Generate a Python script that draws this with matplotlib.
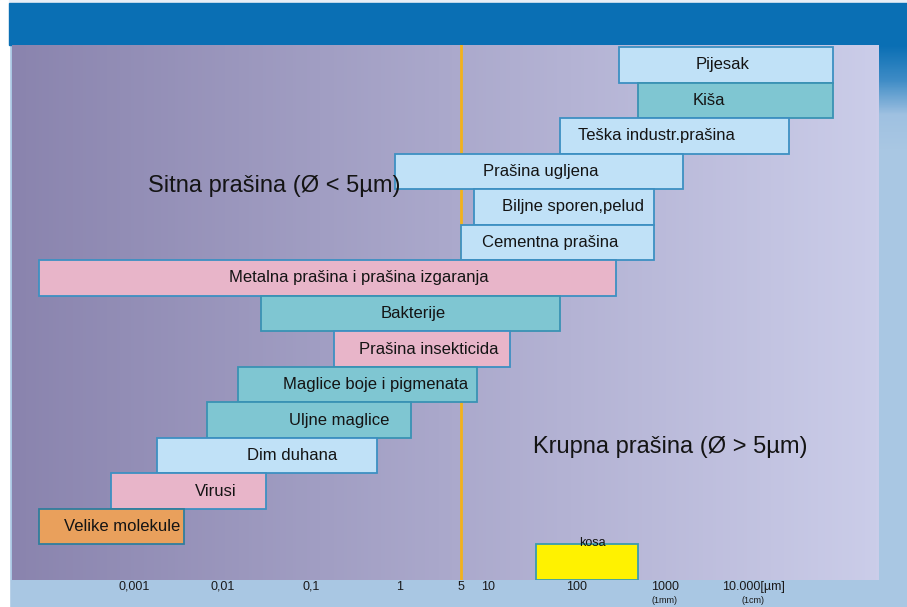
import numpy as np
import matplotlib
matplotlib.use("Agg")
import matplotlib.pyplot as plt
from matplotlib.colors import LinearSegmentedColormap
from matplotlib.patches import Rectangle

plt.rcParams['font.family'] = ['Liberation Sans', 'DejaVu Sans']

# ---- data (particle size ranges in µm) ----
names = ["Pijesak", "Kiša", "Teška industr.prašina", "Prašina ugljena",
         "Biljne sporen,pelud", "Cementna prašina",
         "Metalna prašina i prašina izgaranja", "Bakterije",
         "Prašina insekticida", "Maglice boje i pigmenata", "Uljne maglice",
         "Dim duhana", "Virusi", "Velike molekule", "kosa"]
size_min = [300, 500, 65, 0.9, 7, 5, 8.5e-5, 0.027, 0.18, 0.015, 0.0067,
            0.0018, 0.00055, 8.5e-5, 35]
size_max = [80000, 80000, 25000, 1600, 750, 750, 280, 65, 17.5, 7.5, 1.35,
            0.55, 0.031, 0.0037, 500]
kinds = ["light", "teal", "light", "light", "light", "light", "pink", "teal",
         "pink", "teal", "teal", "light", "pink", "orange", "yellow"]
tick_values = [0.001, 0.01, 0.1, 1, 5, 10, 100, 1000, 10000]
tick_labels = ["0,001", "0,01", "0,1", "1", "5", "10", "100", "1000", "10.000[µm]"]
sub_labels = {1000: "(1mm)", 10000: "(1cm)"}
threshold = 5
fine_text = "Sitna prašina (Ø < 5µm)"
coarse_text = "Krupna prašina (Ø > 5µm)"

# ---- style ----
fills = {"light": "#c0e1f7", "teal": "#7fc6d2", "pink": "#e8b5c9",
         "orange": "#e9a05c", "yellow": "#fff200"}
edges = {"light": "#3d90c2", "teal": "#3a92b4", "pink": "#3d90c2",
         "orange": "#2f7e9e", "yellow": "#3a9cae"}
label_dx_px = [-4, -27, -18, 1, 9, -7, 31, 3, 7, 18, 30, 26, 27, 10]

W, H = 907, 607
fig = plt.figure(figsize=(W / 100, H / 100), dpi=100)

# background (pixel coordinates)
bg = fig.add_axes([0, 0, 1, 1], zorder=-5)
bg.set_xlim(0, W)
bg.set_ylim(H, 0)
bg.axis("off")
bg.add_patch(Rectangle((0, 0), W, H, color="#a9c7e3"))
bg.add_patch(Rectangle((0, 0), 9, H, color="white"))
bg.add_patch(Rectangle((9, 0), W - 9, 3, color="#e8eef6"))
bg.add_patch(Rectangle((9, 3), W - 9, 42, color="#0a6fb4"))
grad_v = np.linspace(0, 1, 100)[:, None]
cm_v = LinearSegmentedColormap.from_list("v", ["#0a6fb4", "#3f8cc6", "#9fc1e1", "#a9c7e3"])
bg.imshow(grad_v, cmap=cm_v, extent=[879, W, 150, 45], aspect="auto", zorder=1)

left, right, top, bottom = 12, 879, 45, 580
ax = fig.add_axes([left / W, 1 - bottom / H, (right - left) / W, (bottom - top) / H])
ax.set_xscale("log")
px_per_dec = 88.5
x0 = 399.5
ax.set_xlim(10 ** ((left - x0) / px_per_dec), 10 ** ((right - x0) / px_per_dec))
ax.set_ylim(14.5, -0.556)
for s in ax.spines.values():
    s.set_visible(False)

grad_h = np.linspace(0, 1, 256)[None, :]
cm_h = LinearSegmentedColormap.from_list("h", ["#8a84ae", "#cbcde9"])
ax.imshow(grad_h, cmap=cm_h, extent=[0, 1, 0, 1], transform=ax.transAxes,
          aspect="auto", zorder=0)

ax.axvline(threshold, color="#f2b21c", lw=2, zorder=1)

rows = np.arange(len(names))
widths = np.array(size_max) - np.array(size_min)
ax.barh(rows, widths, left=size_min, height=1.0,
        color=[fills[k] for k in kinds], edgecolor=[edges[k] for k in kinds],
        linewidth=1.3, zorder=2)

for i, name in enumerate(names[:-1]):
    xc = np.sqrt(size_min[i] * size_max[i])
    ax.annotate(name, xy=(xc, rows[i]), xytext=(label_dx_px[i] * 0.72, 0),
                textcoords="offset points", ha="center", va="center",
                fontsize=12, color="#141414", zorder=3)

# hair label above its bar
k = len(names) - 1
ax.annotate(names[k], xy=(np.sqrt(size_min[k] * size_max[k]), rows[k] - 0.5),
            xytext=(4, -3), textcoords="offset points", ha="center", va="bottom",
            fontsize=9, color="#141414", zorder=3)

ax.text(10 ** ((148 - x0) / px_per_dec), 3.41, fine_text, fontsize=17,
        ha="left", va="center", color="#141414", zorder=3)
ax.text(10 ** ((533 - x0) / px_per_dec), 10.76, coarse_text, fontsize=17,
        ha="left", va="center", color="#141414", zorder=3)

ax.set_xticks(tick_values)
ax.set_xticklabels(tick_labels)
ax.xaxis.set_minor_locator(matplotlib.ticker.NullLocator())
ax.tick_params(axis="x", length=0, pad=0.5, labelsize=9, labelcolor="#1a1a1a")
ax.set_yticks([])
for v, t in sub_labels.items():
    ax.annotate(t, xy=(v, 0), xycoords=("data", "axes fraction"),
                xytext=(0, -14.5), textcoords="offset points",
                ha="center", va="center", fontsize=6.5, color="#1a1a1a")

fig.savefig("out.png", dpi=100)
